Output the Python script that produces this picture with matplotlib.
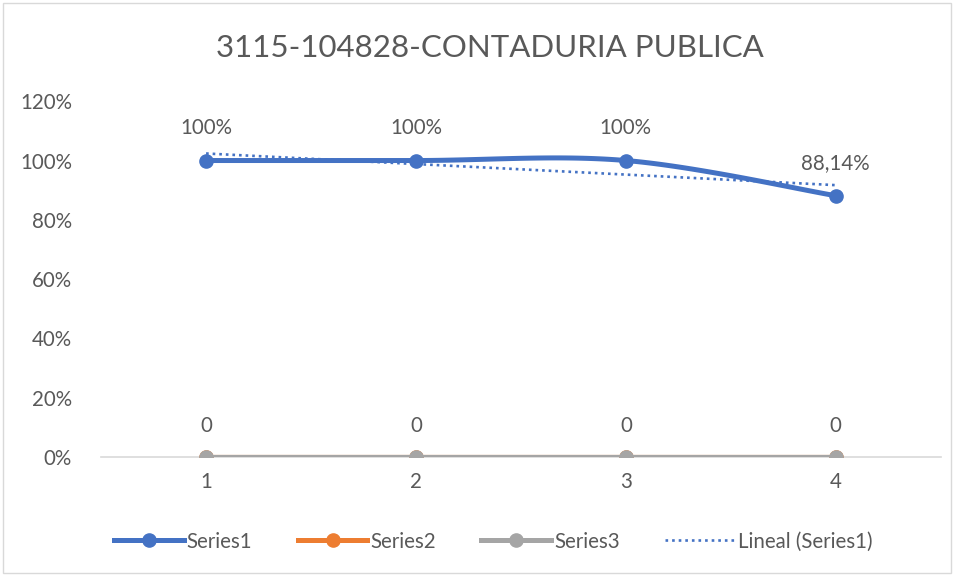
import numpy as np
import matplotlib.pyplot as plt
from matplotlib.patches import Rectangle
from matplotlib.lines import Line2D

plt.rcParams['font.family'] = ['Lato', 'DejaVu Sans']

# chart data
categories = [1, 2, 3, 4]
series1 = [1.00, 1.00, 1.00, 0.8814]
series2 = [0, 0, 0, 0]
series3 = [0, 0, 0, 0]
labels1 = ['100%', '100%', '100%', '88,14%']
title = '3115-104828-CONTADURIA PUBLICA'

blue = '#4472C4'
orange = '#ED7D31'
gray = '#A5A5A5'
text_gray = '#595959'
fs = 14.8


def smooth(x, y, n=40):
    """Excel-like smoothed line (Catmull-Rom Bezier)"""
    pts = np.column_stack([np.asarray(x, float), np.asarray(y, float)])
    out = []
    for i in range(len(pts) - 1):
        p0 = pts[max(i - 1, 0)]
        p1 = pts[i]
        p2 = pts[i + 1]
        p3 = pts[min(i + 2, len(pts) - 1)]
        c1 = p1 + (p2 - p0) / 6
        c2 = p2 - (p3 - p1) / 6
        t = np.linspace(0, 1, n)[:, None]
        seg = (1 - t) ** 3 * p1 + 3 * (1 - t) ** 2 * t * c1 + 3 * (1 - t) * t ** 2 * c2 + t ** 3 * p2
        out.append(seg if i == 0 else seg[1:])
    out = np.vstack(out)
    return out[:, 0], out[:, 1]


fig = plt.figure(figsize=(9.54, 5.75), dpi=100)
ax = fig.add_axes([0.106, 0.205, 0.880, 0.619])

# outer border of the chart
fig.patches.append(Rectangle((0.003, 0.004), 0.994, 0.991, transform=fig.transFigure,
                             fill=False, edgecolor='#D9D9D9', linewidth=1))

# Series2 / Series3 (zeros, Series3 on top)
ax.plot(categories, series2, color=orange, linewidth=3.0, marker='o', markersize=9.5, zorder=3)
ax.plot(categories, series3, color=gray, linewidth=3.0, marker='o', markersize=9.5, zorder=4)

# Series1 smoothed
sx, sy = smooth(categories, series1)
ax.plot(sx, sy, color=blue, linewidth=3.6, solid_capstyle='round', zorder=5)
ax.plot(categories, series1, linestyle='none', color=blue, marker='o', markersize=9.5, zorder=6)

# linear trend of Series1
coef = np.polyfit(categories, series1, 1)
tx = np.array([categories[0], categories[-1]])
ax.plot(tx, np.polyval(coef, tx), color=blue, linestyle=(0, (1, 1.5)), linewidth=1.9, zorder=7)

# data labels
for x, y, lab in zip(categories, series1, labels1):
    ax.annotate(lab, (x, y), xytext=(0, 16), textcoords='offset points', ha='center',
                va='bottom', fontsize=fs, color=text_gray)
for x, y in zip(categories, series3):
    ax.annotate(str(y), (x, y), xytext=(0, 15), textcoords='offset points', ha='center',
                va='bottom', fontsize=fs, color=text_gray)

ax.set_xlim(0.5, 4.5)
ax.set_ylim(0, 1.2)
yt = np.arange(0, 1.21, 0.2)
ax.set_yticks(yt)
ax.set_yticklabels(['%d%%' % round(v * 100) for v in yt])
ax.set_xticks(categories)
ax.tick_params(length=0, labelsize=fs, labelcolor=text_gray)
ax.tick_params(axis='y', pad=21)
ax.tick_params(axis='x', pad=11)
for s in ['top', 'right', 'left']:
    ax.spines[s].set_visible(False)
ax.spines['bottom'].set_color('#D9D9D9')
ax.spines['bottom'].set_linewidth(1.2)
ax.spines['bottom'].set_zorder(1)

fig.text(0.513, 0.917, title, ha='center', va='center', fontsize=22.5, color=text_gray)

handles = [
    Line2D([], [], color=blue, linewidth=3.6, marker='o', markersize=9.5),
    Line2D([], [], color=orange, linewidth=3.6, marker='o', markersize=9.5),
    Line2D([], [], color=gray, linewidth=3.6, marker='o', markersize=9.5),
    Line2D([], [], color=blue, linewidth=1.9, linestyle=(0, (1, 1.5))),
]
fig.legend(handles, ['Series1', 'Series2', 'Series3', 'Lineal (Series1)'], loc='center',
           bbox_to_anchor=(0.517, 0.058), ncol=4, frameon=False, fontsize=fs,
           labelcolor=text_gray, handlelength=3.4, handletextpad=0.15, columnspacing=2.2)

plt.savefig('out.png', dpi=100)
